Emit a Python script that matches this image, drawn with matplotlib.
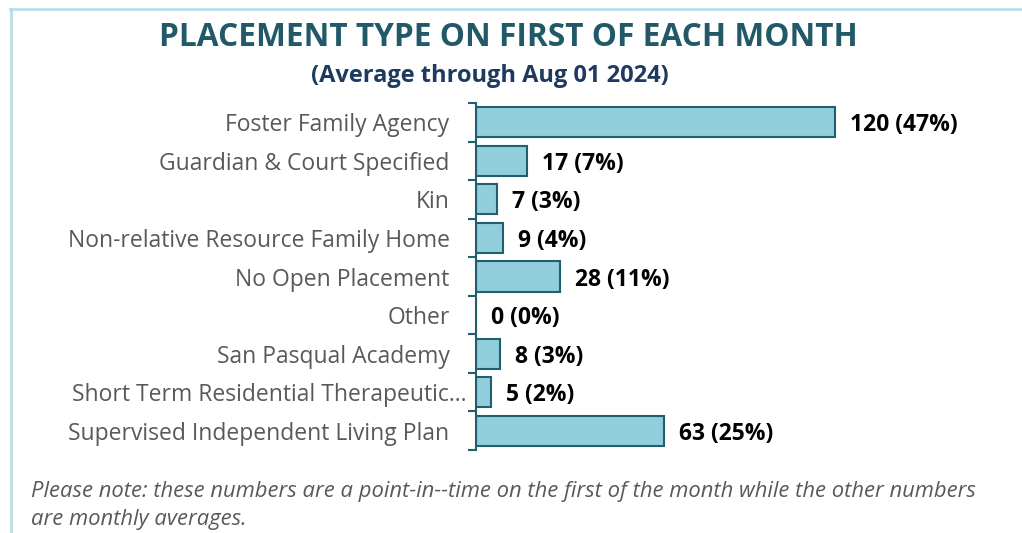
import matplotlib.pyplot as plt
from matplotlib.lines import Line2D
from matplotlib.transforms import ScaledTranslation
import numpy as np

# placement counts on the first of the month
categories = ['Foster Family Agency', 'Guardian & Court Specified', 'Kin',
              'Non-relative Resource Family Home', 'No Open Placement', 'Other',
              'San Pasqual Academy', 'Short Term Residential Therapeutic…',
              'Supervised Independent Living Plan']
counts = [120, 17, 7, 9, 28, 0, 8, 5, 63]
pcts = [47, 7, 3, 4, 11, 0, 3, 2, 25]

W, H = 1022, 533
fig = plt.figure(figsize=(W / 100, H / 100), dpi=100)
plt.rcParams['font.family'] = ['Open Sans', 'DejaVu Sans']

# axes box in pixels: left 476, top 103, bottom 450
x0, y_top, y_bot = 476, 103, 450
ax_w = 520
ax = fig.add_axes([x0 / W, 1 - y_bot / H, ax_w / W, (y_bot - y_top) / H])

edge = '#215E6E'
y = np.arange(len(categories))
ax.barh(y, counts, height=0.78, color='#92CDDC', edgecolor=edge, linewidth=1.5)
ax.set_xlim(0, ax_w / (359 / 120))
ax.set_ylim(len(categories) - 0.5, -0.5)

for yi, c, p in zip(y, counts, pcts):
    ax.text(c + 5, yi + 0.08, f'{c} ({p}%)', va='center', ha='left',
            fontsize=16.5, fontweight='bold', color='black')

for s in ['top', 'right', 'bottom']:
    ax.spines[s].set_visible(False)
ax.spines['left'].set_color(edge)
ax.spines['left'].set_linewidth(1.5)
ax.set_xticks([])
ax.set_yticks(y)
ax.set_yticklabels(categories, fontsize=16.5, color='#595959')
ax.tick_params(axis='y', which='major', length=0, pad=19)
ax.set_yticks(np.arange(-0.5, len(categories)), minor=True)
ax.tick_params(axis='y', which='minor', length=6, width=1.5, color=edge)

# the truncated label runs up close to the axis
long_lbl = ax.get_yticklabels()[7]
long_lbl.set_transform(long_lbl.get_transform()
                       + ScaledTranslation(17 / 100, 0, fig.dpi_scale_trans))

fig.text(508 / W, 1 - 38 / H, 'PLACEMENT TYPE ON FIRST OF EACH MONTH',
         ha='center', va='center', fontsize=22.8, fontweight='bold', color='#215968')
fig.text(490 / W, 1 - 76 / H, '(Average through Aug 01 2024)',
         ha='center', va='center', fontsize=17, fontweight='bold', color='#1F3A5F')

fig.text(31 / W, 1 - 492 / H,
         'Please note: these numbers are a point-in--time on the first of the month while the other numbers',
         ha='left', va='center', fontsize=15.8, style='italic', color='#595959')
fig.text(31 / W, 1 - 519 / H, 'are monthly averages.',
         ha='left', va='center', fontsize=15.8, style='italic', color='#595959')

# frame lines along top and left edge
border = '#B7DEE8'
fig.add_artist(Line2D([10 / W, 1], [1 - 8.5 / H, 1 - 8.5 / H], color=border, lw=2))
fig.add_artist(Line2D([11 / W, 11 / W], [0, 1 - 8.5 / H], color=border, lw=2))

fig.savefig('out.png', dpi=100)
